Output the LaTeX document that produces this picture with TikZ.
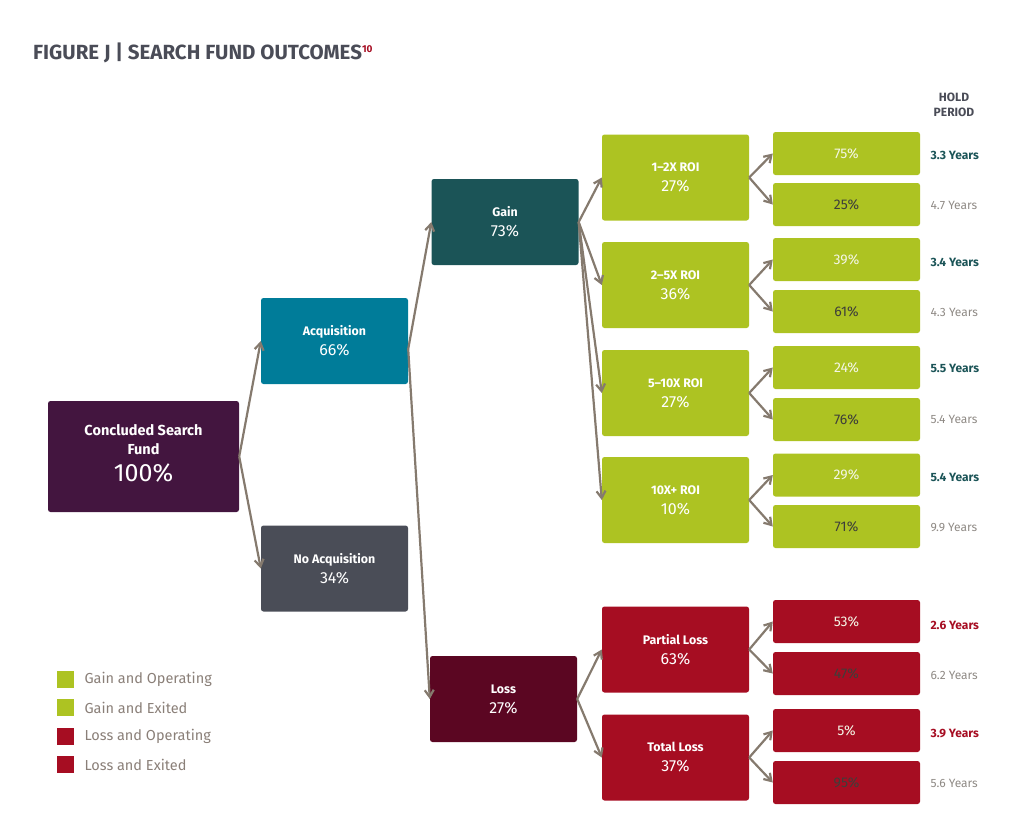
\documentclass[tikz,border=0pt]{standalone}
\usepackage{fontspec}
\setmainfont{Fira Sans}
\usetikzlibrary{arrows.meta}
\definecolor{cconc}{HTML}{43153F}
\definecolor{cacq}{HTML}{007C99}
\definecolor{cgain}{HTML}{1B5457}
\definecolor{cnoacq}{HTML}{4A4D57}
\definecolor{closs}{HTML}{5B0622}
\definecolor{cgreen}{HTML}{ADC322}
\definecolor{cred}{HTML}{A60D22}
\definecolor{carrow}{HTML}{857A6E}
\definecolor{clegend}{HTML}{8A7F78}
\definecolor{cyears}{HTML}{8F8A85}
\definecolor{ctitle}{HTML}{4A4C57}
\definecolor{cdarktxt}{HTML}{3E3E3A}
\definecolor{cwhitetxt}{HTML}{F4F6E6}
\tikzset{
  box/.style={rectangle, rounded corners=2.5pt, minimum width=147pt, minimum height=86pt,
    inner sep=0pt, align=center, text=white, font=\fontsize{16}{20}\selectfont},
  leaf/.style={rectangle, rounded corners=2.5pt, minimum width=147pt, minimum height=43pt,
    inner sep=0pt, font=\fontsize{14}{16}\selectfont},
  lt/.style={text=cwhitetxt},
  dk/.style={text=cdarktxt},
  conn/.style={draw=carrow, line width=2.2pt, -{Straight Barb[length=7pt,width=9pt]}},
  yrs/.style={anchor=west, text=cyears, font=\fontsize{12}{14}\selectfont},
  yrsg/.style={anchor=west, text=cgain, font=\fontsize{12}{14}\selectfont\bfseries},
  yrsr/.style={anchor=west, text=cred, font=\fontsize{12}{14}\selectfont\bfseries},
  legsq/.style={rectangle, minimum size=17pt, inner sep=0pt},
  legtxt/.style={anchor=west, text=clegend, font=\fontsize{14.5}{16}\selectfont},
}
\newcommand{\lbl}[1]{{\fontsize{12.4}{14}\selectfont\bfseries #1}}
\newcommand{\lblb}[1]{{\fontsize{14.5}{19}\selectfont\bfseries #1}}
\begin{document}
\begin{tikzpicture}[x=1pt,y=-1pt]
\useasboundingbox (0,0) rectangle (1021,828);
% title
\node[anchor=west, inner sep=0pt, text=ctitle, font=\fontsize{20.5}{22}\selectfont\bfseries] (title) at (33,53)
  {FIGURE J | SEARCH FUND OUTCOMES\raisebox{7pt}{\textcolor{cred}{\fontsize{10}{11}\selectfont 10}}};
\node[align=center, text=ctitle, font=\fontsize{12}{15}\selectfont\bfseries] (hold) at (954,104.5) {HOLD\\PERIOD};

% main boxes
\node[box, fill=cconc, minimum width=191pt, minimum height=111pt, font=\fontsize{14.5}{19}\selectfont] (conc) at (143.5,456.5)
  {\lblb{Concluded Search}\\\lblb{Fund}\\[8pt]{\fontsize{25}{26}\selectfont 100\%\rule[-8pt]{0pt}{8pt}}};
\node[box, fill=cacq] (acq) at (334.5,341) {\lbl{Acquisition}\\66\%};
\node[box, fill=cnoacq] (noacq) at (334.5,568.5) {\lbl{No Acquisition}\\34\%};
\node[box, fill=cgain] (gain) at (505,222) {\lbl{Gain}\\73\%};
\node[box, fill=closs] (loss) at (503.5,699) {\lbl{Loss}\\27\%};
\node[box, fill=cgreen] (r12) at (675.5,177.5) {\lbl{1–2X ROI}\\27\%};
\node[box, fill=cgreen] (r25) at (675.5,285) {\lbl{2–5X ROI}\\36\%};
\node[box, fill=cgreen] (r510) at (675.5,393) {\lbl{5–10X ROI}\\27\%};
\node[box, fill=cgreen] (r10) at (675.5,500) {\lbl{10X+ ROI}\\10\%};
\node[box, fill=cred] (part) at (675.5,649.5) {\lbl{Partial Loss}\\63\%};
\node[box, fill=cred] (tot) at (675.5,757.5) {\lbl{Total Loss}\\37\%};

% leaves
\node[leaf, fill=cgreen, lt] (l1) at (846.5,153.5) {75\%};
\node[leaf, fill=cgreen, dk] (l2) at (846.5,204.5) {25\%};
\node[leaf, fill=cgreen, lt] (l3) at (846.5,259.5) {39\%};
\node[leaf, fill=cgreen, dk] (l4) at (846.5,311.5) {61\%};
\node[leaf, fill=cgreen, lt] (l5) at (846.5,367.5) {24\%};
\node[leaf, fill=cgreen, dk] (l6) at (846.5,419.5) {76\%};
\node[leaf, fill=cgreen, lt] (l7) at (846.5,475) {29\%};
\node[leaf, fill=cgreen, dk] (l8) at (846.5,526.5) {71\%};
\node[leaf, fill=cred, lt] (l9) at (846.5,621.5) {53\%};
\node[leaf, fill=cred, dk] (l10) at (846.5,673.5) {47\%};
\node[leaf, fill=cred, lt] (l11) at (846.5,730.5) {5\%};
\node[leaf, fill=cred, dk] (l12) at (846.5,782.5) {95\%};

% years
\node[yrsg] (y1) at (927,155) {3.3 Years};
\node[yrs]  (y2) at (927,205.5) {4.7 Years};
\node[yrsg] (y3) at (927,262.5) {3.4 Years};
\node[yrs]  (y4) at (927,312.5) {4.3 Years};
\node[yrsg] (y5) at (927,368.5) {5.5 Years};
\node[yrs]  (y6) at (927,419.5) {5.4 Years};
\node[yrsg] (y7) at (927,477) {5.4 Years};
\node[yrs]  (y8) at (927,527.5) {9.9 Years};
\node[yrsr] (y9) at (927,625) {2.6 Years};
\node[yrs]  (y10) at (927,675) {6.2 Years};
\node[yrsr] (y11) at (927,733.5) {3.9 Years};
\node[yrs]  (y12) at (927,783.5) {5.6 Years};

% connectors
\draw[conn] (conc.east) -- (acq.west);
\draw[conn] (conc.east) -- (noacq.west);
\draw[conn] ([yshift=-8pt]acq.east) -- (gain.west);
\draw[conn] ([yshift=-8pt]acq.east) -- (loss.west);
\draw[conn] (gain.east) -- (r12.west);
\draw[conn] (gain.east) -- (r25.west);
\draw[conn] (gain.east) -- (r510.west);
\draw[conn] (gain.east) -- (r10.west);
\draw[conn] (loss.east) -- (part.west);
\draw[conn] (loss.east) -- (tot.west);
\draw[conn] (r12.east) -- (l1.west);
\draw[conn] (r12.east) -- (l2.west);
\draw[conn] (r25.east) -- (l3.west);
\draw[conn] (r25.east) -- (l4.west);
\draw[conn] (r510.east) -- (l5.west);
\draw[conn] (r510.east) -- (l6.west);
\draw[conn] (r10.east) -- (l7.west);
\draw[conn] (r10.east) -- (l8.west);
\draw[conn] (part.east) -- (l9.west);
\draw[conn] (part.east) -- (l10.west);
\draw[conn] (tot.east) -- (l11.west);
\draw[conn] (tot.east) -- (l12.west);

% legend
\node[legsq, fill=cgreen] (sq1) at (65.5,679) {};
\node[legsq, fill=cgreen] (sq2) at (65.5,707.5) {};
\node[legsq, fill=cred] (sq3) at (65.5,736) {};
\node[legsq, fill=cred] (sq4) at (65.5,764.5) {};
\node[legtxt] (t1) at (81,679) {Gain and Operating};
\node[legtxt] (t2) at (81,707.5) {Gain and Exited};
\node[legtxt] (t3) at (81,736) {Loss and Operating};
\node[legtxt] (t4) at (81,764.5) {Loss and Exited};
\end{tikzpicture}
\end{document}
